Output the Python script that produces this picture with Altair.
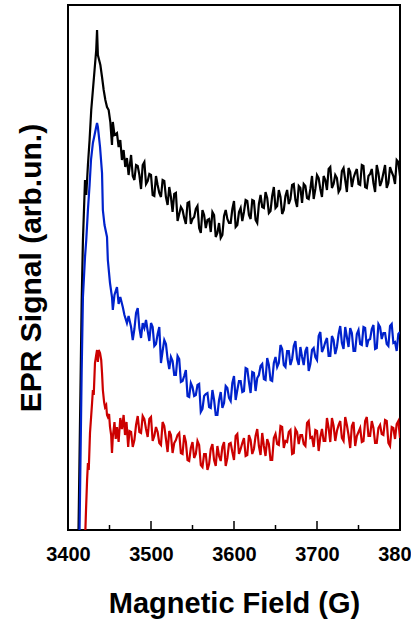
import altair as alt
import pandas as pd

# ---------------- data ----------------
SERIES = ["Sample 1", "Sample 2", "Sample 3"]
COLORS = ["#000000", "#0022CC", "#CC0000"]

MAJOR_TICKS = [3400, 3500, 3600, 3700, 3800]
MINOR_TICKS = [3450, 3550, 3650, 3750]

TAIL_FIELD = [3476, 3480, 3484, 3488, 3492, 3496, 3500, 3504, 3508, 3512,
              3516, 3520, 3524, 3528, 3532, 3536, 3540, 3544, 3548, 3552,
              3556, 3560, 3564, 3568, 3572, 3576, 3580, 3584, 3588, 3592,
              3596, 3600, 3604, 3608, 3612, 3616, 3620, 3624, 3628, 3632,
              3636, 3640, 3644, 3648, 3652, 3656, 3660, 3664, 3668, 3672,
              3676, 3680, 3684, 3688, 3692, 3696, 3700, 3704, 3708, 3712,
              3716, 3720, 3724, 3728, 3732, 3736, 3740, 3744, 3748, 3752,
              3756, 3760, 3764, 3768, 3772, 3776, 3780, 3784, 3788, 3792,
              3796, 3800]
MID_FIELD = [3478, 3482, 3486, 3490, 3494, 3498, 3502, 3506, 3510, 3514,
             3518, 3522, 3526, 3530, 3534, 3538, 3542, 3546, 3550, 3554,
             3558, 3562, 3566, 3570, 3574, 3578, 3582, 3586, 3590, 3594,
             3598, 3602, 3606, 3610, 3614, 3618, 3622, 3626, 3630, 3634,
             3638, 3642, 3646, 3650, 3654, 3658, 3662, 3666, 3670, 3674,
             3678, 3682, 3686, 3690, 3694, 3698, 3702, 3706, 3710, 3714,
             3718, 3722, 3726, 3730, 3734, 3738, 3742, 3746, 3750, 3754,
             3758, 3762, 3766, 3770, 3774, 3778, 3782, 3786, 3790, 3794,
             3798]

BLACK_HEAD_FIELD = [3412, 3416.5, 3418, 3420.5, 3422, 3424, 3426, 3428, 3430, 3432,
                    3434, 3435, 3436, 3437.5, 3439, 3441, 3443, 3445, 3447, 3449,
                    3451, 3453, 3454, 3456, 3459, 3461, 3463, 3465, 3467, 3469,
                    3471, 3473]
BLACK_HEAD_SIGNAL = [-8, 46, 58, 70, 67, 73, 78, 84, 88, 92,
                     96, 100, 95, 94, 93, 90.6, 88, 86, 84.6, 84,
                     81.6, 77, 81.6, 79, 79.4, 76.6, 78, 74, 76, 72.6,
                     74.4, 71]
BLACK_TAIL_SIGNAL = [75.0, 70.0, 72.8, 68.2, 73.6, 69.8, 71.0, 66.8, 69.0, 66.6,
                     69.8, 65.0, 66.6, 67.2, 61.8, 64.6, 62.4, 65.4, 61.2, 62.6,
                     64.8, 59.4, 63.0, 62.0, 59.6, 63.0, 59.4, 58.4, 62.8, 62.2,
                     61.4, 65.8, 61.0, 64.4, 63.6, 65.8, 62.2, 65.8, 61.4, 67.0,
                     64.4, 66.4, 63.8, 68.6, 64.8, 66.6, 64.0, 68.0, 66.2, 69.2,
                     64.6, 68.4, 69.2, 66.4, 68.2, 66.2, 71.0, 68.2, 70.8, 68.0,
                     72.6, 69.2, 70.4, 68.2, 72.4, 67.6, 71.6, 70.4, 72.2, 69.0,
                     72.8, 68.4, 71.2, 69.4, 73.0, 68.8, 71.4, 68.4, 72.6, 70.8,
                     74.0, 70.8]
BLACK_MID_SIGNAL = [70.8, 73.0, 71.0, 73.0, 69.2, 71.2, 67.0, 70.8, 67.4, 70.0,
                    66.6, 68.6, 63.6, 67.4, 63.2, 64.0, 61.2, 65.6, 62.2, 64.2,
                    60.4, 64.0, 60.4, 62.2, 63.6, 58.6, 61.4, 59.0, 64.0, 61.4,
                    64.2, 60.6, 63.6, 61.8, 66.0, 63.0, 66.0, 62.0, 65.2, 64.6,
                    67.6, 63.4, 66.8, 64.4, 68.0, 63.2, 66.8, 65.2, 69.0, 66.0,
                    68.8, 65.4, 68.8, 66.2, 70.8, 68.2, 70.4, 66.6, 70.0, 72.2,
                    68.4, 71.0, 67.6, 71.8, 70.0, 72.4, 68.6, 71.4, 69.2, 73.0,
                    68.6, 70.8, 72.2, 67.6, 71.4, 69.8, 73.0, 69.4, 71.6, 69.2,
                    73.6]

BLUE_HEAD_FIELD = [3413.5, 3416.5, 3418, 3420.5, 3422, 3424, 3426, 3427.7, 3430, 3432,
                   3433.7, 3435, 3436, 3438.6, 3441, 3442, 3444, 3447, 3448, 3450.6,
                   3453, 3454, 3456, 3459, 3461, 3463, 3466, 3468, 3471, 3473]
BLUE_HEAD_SIGNAL = [-5, 32, 46.6, 54.6, 58, 64, 69, 74, 77.4, 79,
                    80.4, 81.4, 80.6, 76.6, 71.4, 64, 61, 58.6, 54, 49.4,
                    46.6, 44, 47, 48.6, 45.2, 46.6, 44.6, 43, 41.4, 42.8]
BLUE_TAIL_SIGNAL = [40.6, 40.2, 44.4, 38.4, 40.4, 39.8, 41.4, 36.8, 39.2, 33.4,
                    38.0, 34.2, 34.6, 31.0, 34.8, 29.6, 30.8, 26.8, 29.4, 26.8,
                    29.0, 23.6, 26.8, 27.4, 24.4, 26.0, 23.0, 27.6, 25.4, 28.4,
                    25.8, 30.8, 28.0, 29.8, 27.8, 32.2, 27.4, 31.4, 30.4, 32.8,
                    30.2, 34.4, 30.0, 33.4, 32.6, 37.0, 33.0, 35.8, 33.0, 36.8,
                    34.2, 36.6, 33.0, 36.6, 33.2, 36.4, 34.0, 39.6, 36.4, 38.4,
                    34.8, 38.0, 36.6, 40.8, 36.2, 38.6, 40.4, 35.8, 39.2, 37.2,
                    40.6, 36.6, 38.2, 41.0, 36.4, 40.6, 39.4, 37.2, 40.8, 37.4,
                    35.8, 39.6]
BLUE_MID_SIGNAL = [38.0, 43.4, 40.4, 41.4, 42.0, 37.8, 40.6, 37.2, 40.6, 35.8,
                   37.2, 32.2, 33.8, 31.0, 34.2, 29.8, 32.0, 26.6, 28.6, 27.0,
                   29.2, 24.2, 27.2, 24.6, 28.0, 23.0, 26.0, 24.4, 28.8, 26.4,
                   29.4, 26.0, 29.8, 27.6, 32.4, 29.6, 31.6, 27.8, 31.0, 33.2,
                   30.0, 33.0, 29.8, 34.6, 33.4, 36.2, 32.6, 35.8, 34.2, 37.8,
                   33.0, 34.6, 35.8, 31.8, 36.0, 34.6, 38.8, 35.6, 37.6, 34.8,
                   38.8, 35.2, 39.2, 37.4, 40.6, 36.6, 39.4, 35.8, 40.0, 37.0,
                   40.4, 38.0, 40.2, 36.2, 41.2, 38.2, 39.4, 36.8, 41.2, 37.6,
                   39.2]

RED_HEAD_FIELD = [3420, 3421.7, 3423, 3424, 3425, 3426.5, 3429, 3430, 3431, 3432.5,
                  3434, 3435, 3436, 3437, 3438.6, 3440, 3441, 3442, 3443.5, 3444.6,
                  3446, 3447, 3448, 3449.5, 3450.6, 3452, 3453, 3454, 3456, 3457.5,
                  3459, 3461, 3463, 3465, 3467, 3468.7, 3470.5, 3472.5, 3474]
RED_HEAD_SIGNAL = [-5, 4, 10, 13.4, 12, 19.4, 25.4, 28, 27, 33.4,
                   35, 36, 33.6, 36, 35.4, 34, 31.4, 28, 25.6, 24.6,
                   25, 23, 22.6, 23.2, 20.6, 19, 15.4, 18.6, 21.6, 18.2,
                   20.6, 17.6, 22.4, 20.2, 23, 19, 21.6, 16.6, 19.8]
RED_TAIL_SIGNAL = [19.6, 18.0, 22.8, 19.4, 22.2, 18.6, 22.6, 18.8, 19.6, 17.0,
                   20.8, 15.6, 19.0, 17.4, 19.0, 15.4, 19.0, 14.0, 16.4, 14.4,
                   17.8, 13.0, 15.2, 12.0, 16.2, 14.0, 16.8, 13.8, 17.6, 14.4,
                   17.4, 14.0, 19.2, 16.2, 18.4, 15.0, 18.0, 16.2, 20.2, 15.0,
                   16.8, 18.2, 14.0, 18.4, 17.2, 20.8, 16.4, 17.6, 20.0, 15.4,
                   19.6, 19.0, 17.2, 21.4, 18.4, 16.6, 19.8, 18.6, 17.8, 22.4,
                   17.6, 20.8, 19.8, 21.8, 17.8, 21.0, 16.4, 21.6, 18.8, 20.4,
                   17.8, 22.6, 18.8, 20.4, 17.4, 21.0, 19.0, 21.8, 16.8, 20.4,
                   21.2, 18.4]
RED_MID_SIGNAL = [16.6, 21.0, 19.6, 22.8, 20.2, 22.2, 17.8, 20.6, 17.4, 21.6,
                  18.2, 19.8, 15.4, 18.0, 19.4, 15.2, 17.6, 13.8, 17.6, 15.2,
                  17.0, 12.6, 15.2, 13.2, 17.2, 12.8, 14.8, 16.6, 12.8, 17.2,
                  15.6, 18.8, 15.2, 17.4, 14.8, 19.0, 15.2, 18.8, 16.8, 19.4,
                  14.8, 17.2, 14.0, 19.2, 17.0, 20.6, 17.8, 19.6, 15.2, 20.2,
                  17.2, 19.0, 16.8, 21.8, 18.6, 20.0, 15.8, 20.2, 17.8, 20.4,
                  22.4, 17.8, 21.0, 18.4, 22.6, 19.0, 20.8, 16.8, 19.6, 17.6,
                  21.8, 18.8, 21.8, 17.4, 20.4, 19.2, 22.0, 17.4, 20.6, 18.2,
                  21.8]

# ---------------- build table ----------------
rows = []
for name, hf, hs, ts, ms in [
    (SERIES[0], BLACK_HEAD_FIELD, BLACK_HEAD_SIGNAL, BLACK_TAIL_SIGNAL, BLACK_MID_SIGNAL),
    (SERIES[1], BLUE_HEAD_FIELD, BLUE_HEAD_SIGNAL, BLUE_TAIL_SIGNAL, BLUE_MID_SIGNAL),
    (SERIES[2], RED_HEAD_FIELD, RED_HEAD_SIGNAL, RED_TAIL_SIGNAL, RED_MID_SIGNAL),
]:
    for f, s in zip(hf + TAIL_FIELD + MID_FIELD, hs + ts + ms):
        rows.append({"series": name, "field": f, "signal": s})
df = pd.DataFrame(rows).sort_values(["series", "field"])

FONT = "Liberation Sans"
W, H = 332, 525

x_scale = alt.Scale(domain=[3400, 3800], nice=False, zero=False)
y_scale = alt.Scale(domain=[0, 105], nice=False, zero=False)

X_AXIS = alt.Axis(title="Magnetic Field (G)", values=MAJOR_TICKS, format="d",
                  grid=False, domain=False, ticks=False, tickSize=0,
                  labelFont=FONT, labelFontSize=20, labelFontWeight="bold",
                  labelColor="black", labelBaseline="alphabetic",
                  labelPadding=30, labelFlush=False, labelOverlap=False,
                  titleFont=FONT, titleFontSize=29, titleFontWeight="bold",
                  titleColor="black", titleBaseline="alphabetic",
                  titleAlign="center", titleX=W / 2, titleY=82)

lines = alt.Chart(df).mark_line(strokeWidth=2.2, clip=True).encode(
    x=alt.X("field:Q", scale=x_scale, axis=X_AXIS),
    y=alt.Y("signal:Q", scale=y_scale,
            axis=alt.Axis(title="EPR Signal (arb.un.)", labels=False, ticks=False,
                          domain=False, grid=False,
                          titleFont=FONT, titleFontSize=30, titleFontWeight="bold",
                          titleColor="black", titleBaseline="alphabetic",
                          titleAlign="center", titleAngle=270,
                          titleX=-28, titleY=H / 2)),
    color=alt.Color("series:N", scale=alt.Scale(domain=SERIES, range=COLORS), legend=None),
    order=alt.Order("field:Q"),
)

major = alt.Chart(pd.DataFrame({"field": MAJOR_TICKS})).mark_rule(
    color="black", strokeWidth=1.5).encode(
    x=alt.X("field:Q", scale=x_scale, axis=X_AXIS),
    y=alt.value(H), y2=alt.value(H - 9))

minor = alt.Chart(pd.DataFrame({"field": MINOR_TICKS})).mark_rule(
    color="black", strokeWidth=1.5).encode(
    x=alt.X("field:Q", scale=x_scale, axis=X_AXIS),
    y=alt.value(H), y2=alt.value(H - 5))

chart = alt.layer(lines, major, minor).properties(
    width=W, height=H,
    padding={"left": 68, "top": 5, "right": 11, "bottom": 90},
    autosize=alt.AutoSizeParams(type="none"),
    background="white",
).configure_view(stroke="black", strokeWidth=2)

chart.save("out.html", embed_options={"renderer": "svg", "actions": False})
